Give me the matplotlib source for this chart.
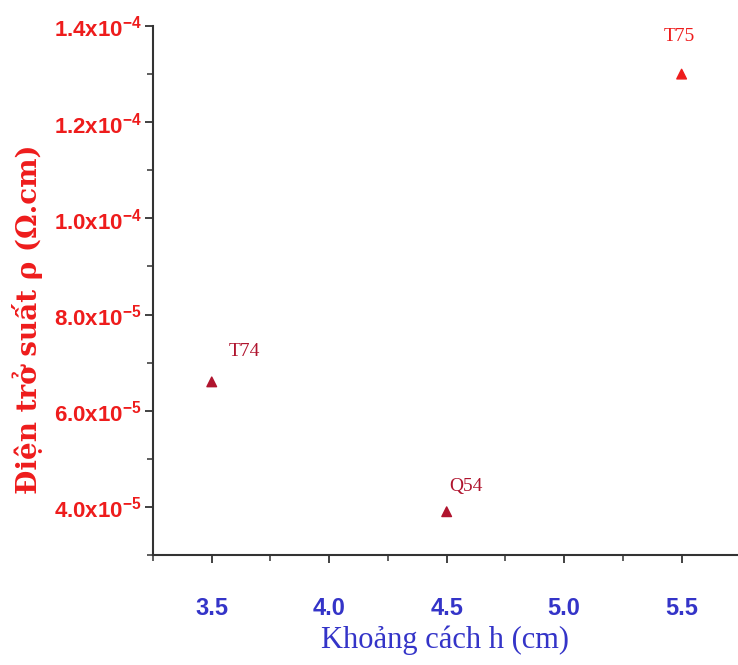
import matplotlib
matplotlib.use("Agg")
import matplotlib.pyplot as plt
from matplotlib.ticker import MultipleLocator, FuncFormatter

# dữ liệu
h_cm = [3.5, 4.5, 5.5]
rho = [6.6e-5, 3.9e-5, 1.30e-4]
sample_names = ["T74", "Q54", "T75"]
x_ticks = [3.5, 4.0, 4.5, 5.0, 5.5]
y_ticks = [4.0e-5, 6.0e-5, 8.0e-5, 1.0e-4, 1.2e-4, 1.4e-4]

plt.rcParams["mathtext.fontset"] = "custom"
plt.rcParams["mathtext.rm"] = "Liberation Sans"
plt.rcParams["mathtext.bf"] = "Liberation Sans:bold"

RED = "#ee1c1c"
DARK_RED = "#b0142e"
BLUE = "#3434c8"


def sci_label(v, pos):
    exp = int(f"{v:e}".split("e")[1])
    mant = v / 10 ** exp
    return r"$\mathbf{%.1fx10^{%d}}$" % (mant, exp)


fig = plt.figure(figsize=(7.38, 6.65), dpi=100)
ax = fig.add_axes([153 / 738, 1 - 555 / 665, 1 - 153 / 738, (555 - 26) / 665])

marker_colors = [DARK_RED, DARK_RED, RED]
ax.scatter(h_cm, rho, marker="^", s=48, c=marker_colors, zorder=3)

# nhãn cho từng mẫu
offsets = [(12, 22), (2, 18), (-2, 27)]
for x, y, name, off, col in zip(h_cm, rho, sample_names, offsets, marker_colors):
    ax.annotate(name, (x, y), xytext=off, textcoords="offset points",
                ha="left" if off[0] > 0 else "center", va="center",
                fontsize=14, family="Liberation Serif", color=col)

ax.set_xlim(3.25, 5.74)
ax.set_ylim(3.0e-5, 1.4e-4)
ax.set_xticks(x_ticks)
ax.set_yticks(y_ticks)
ax.xaxis.set_minor_locator(MultipleLocator(0.25))
ax.yaxis.set_minor_locator(MultipleLocator(1e-5))
ax.xaxis.set_major_formatter(FuncFormatter(lambda v, p: f"{v:.1f}"))
ax.yaxis.set_major_formatter(FuncFormatter(sci_label))

for lab in ax.get_xticklabels():
    lab.set_family("Liberation Sans")
    lab.set_fontweight("bold")
    lab.set_fontsize(17)
    lab.set_color(BLUE)
for lab in ax.get_yticklabels():
    lab.set_fontsize(16)
    lab.set_color(RED)

ax.spines["top"].set_visible(False)
ax.spines["right"].set_visible(False)
for s in ("left", "bottom"):
    ax.spines[s].set_color("#333333")
    ax.spines[s].set_linewidth(1.5)
ax.tick_params(which="major", direction="out", length=6, width=1.3, color="#333333")
ax.tick_params(which="minor", direction="out", length=4, width=1.1, color="#333333")
ax.tick_params(axis="x", which="major", pad=24)
ax.tick_params(axis="y", which="major", pad=2)

fig.text(445 / 738, 1 - 640 / 665, "Khoảng cách h (cm)", ha="center", va="center",
         fontsize=22, family="Liberation Serif", color=BLUE)
fig.text(28 / 738, 1 - 319 / 665, "Điện trở suất ρ (Ω.cm)", ha="center", va="center",
         rotation=90, fontsize=20, family="DejaVu Serif", fontweight="bold", color=RED)

fig.savefig("out.png", dpi=100)
